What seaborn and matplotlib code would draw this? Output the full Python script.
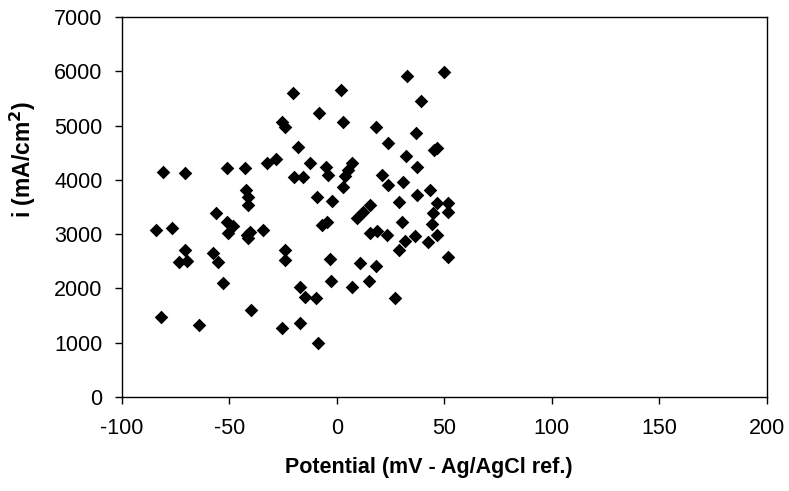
import numpy as np
import pandas as pd
import matplotlib
matplotlib.use("Agg")
import matplotlib.pyplot as plt
import seaborn as sns

# ── Data ───────────────────────────────────────────────────
potential = [-20.3, -25.7, -24.2, -18.0, -81.1, -70.7, -51.3, -42.6, -32.7, -28.4,
             -12.5, -20.0, -15.7, -42.3, -41.3, -41.3, -56.3, -84.2, -76.9, -51.3,
             -48.5, -50.6, -42.0, -40.5, -41.3, -34.3, -70.7, -73.3, -69.9, -57.5,
             -55.2, -53.2, -24.2, -24.2, -17.2, -14.9, -82.0, -64.2, -40.1, -25.7,
             -17.2, 32.4, 49.9, 1.7, 39.1, -8.4, 2.9, 18.0, 36.7, 23.9,
             45.3, 46.5, 32.1, 37.3, -5.1, -4.0, 6.8, 5.3, 3.7, 2.6,
             20.8, 23.9, 30.6, 43.3, -9.2, -2.5, 15.3, 28.8, 37.3, 46.6,
             51.8, 12.2, 9.2, -7.1, -4.8, 30.1, 44.8, 44.0, 51.8, 15.3,
             18.5, 23.1, 31.6, 29.0, 36.3, 42.5, 46.4, -3.3, 10.7, 18.1,
             51.8, -2.9, 7.1, 15.0, 27.0, -9.8, -8.7]
current = [5593, 5070, 4967, 4610, 4138, 4131, 4223, 4223, 4315, 4377,
           4315, 4057, 4057, 3812, 3689, 3536, 3394, 3075, 3107, 3229,
           3149, 3014, 2983, 3045, 2922, 3075, 2707, 2492, 2510, 2657,
           2492, 2105, 2707, 2523, 2031, 1847, 1479, 1326, 1602, 1265,
           1357, 5912, 5985, 5654, 5451, 5224, 5059, 4967, 4856, 4672,
           4549, 4590, 4438, 4242, 4242, 4088, 4315, 4180, 4070, 3873,
           4088, 3904, 3954, 3812, 3689, 3615, 3536, 3591, 3720, 3567,
           3567, 3413, 3291, 3168, 3229, 3229, 3383, 3186, 3413, 3014,
           3063, 2983, 2879, 2707, 2965, 2860, 2983, 2536, 2462, 2418,
           2584, 2136, 2020, 2136, 1818, 1818, 1000]

df = pd.DataFrame({"potential": potential, "current": current})

# ── Plot ───────────────────────────────────────────────────
sns.set_style("white")
plt.rcParams["font.family"] = ["Liberation Sans", "DejaVu Sans"]
plt.rcParams["axes.unicode_minus"] = False
plt.rcParams["text.color"] = "black"
plt.rcParams["axes.labelcolor"] = "black"
plt.rcParams["xtick.color"] = "black"
plt.rcParams["ytick.color"] = "black"

fig = plt.figure(figsize=(7.89, 4.91), dpi=100)
ax = fig.add_axes([0.1546, 0.1914, 0.8174, 0.774])

sns.scatterplot(data=df, x="potential", y="current", marker="D", s=48,
                color="black", edgecolor="black", linewidth=0, ax=ax)

ax.set_xlim(-100, 200)
ax.set_ylim(0, 7000)
ax.set_xticks(np.arange(-100, 201, 50))
ax.set_yticks(np.arange(0, 7001, 1000))

for sp in ax.spines.values():
    sp.set_color("black")
    sp.set_linewidth(1.0)

ax.tick_params(axis="both", direction="out", length=5, width=1, color="black",
               labelcolor="black", labelsize=15.5, bottom=True, left=True)
ax.tick_params(axis="x", pad=10)
ax.tick_params(axis="y", pad=9)

ax.set_xlabel("Potential (mV - Ag/AgCl ref.)", fontsize=15.5, fontweight="bold", color="black")
ax.set_ylabel("i (mA/cm$^\\mathbf{2}$)", fontsize=16.5, fontweight="bold", color="black")
ax.xaxis.set_label_coords(0.475, -0.158)
ax.yaxis.set_label_coords(-0.130, 0.624)

plt.savefig("out.png", dpi=100)
